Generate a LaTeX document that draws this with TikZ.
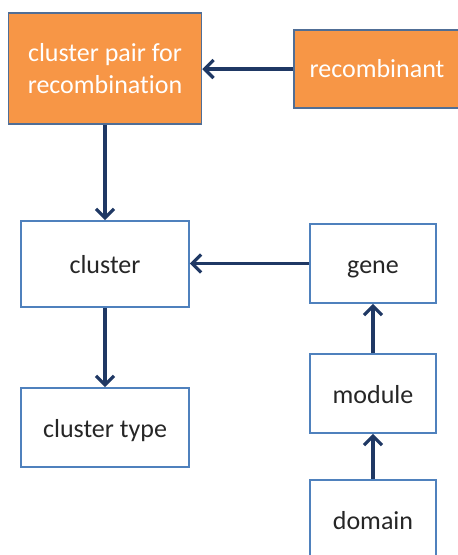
\documentclass[tikz,border=0pt]{standalone}
\usepackage{fontspec}
\setmainfont{Carlito}[Ligatures=NoCommon]
\usetikzlibrary{arrows.meta}
\definecolor{pairfill}{RGB}{247, 150, 70}
\definecolor{pairedge}{RGB}{80, 110, 150}
\definecolor{boxedge}{RGB}{79, 129, 189}
\definecolor{linkcol}{RGB}{31, 56, 100}
\definecolor{txtcol}{RGB}{38, 38, 38}

\begin{document}
\begin{tikzpicture}[
    x=1pt, y=-1pt,
    pairbox/.style={rectangle, draw=pairedge, line width=1.5pt, fill=pairfill,
                    text=white, align=center, inner sep=0pt,
                    font=\fontsize{26}{32}\selectfont},
    entity/.style={rectangle, draw=boxedge, line width=1.8pt, fill=white,
                   text=txtcol, align=center, inner sep=0pt,
                   text height=20pt, text depth=1pt,
                   font=\fontsize{26}{32}\selectfont},
    link/.style={-{Straight Barb[length=9pt, width=18pt, line width=3.2pt]},
                 line width=3.4pt, linkcol}
]
\useasboundingbox (0,0) rectangle (458,555);

% Recombination part (top)
\node[pairbox, minimum width=193pt, minimum height=111pt] (pair) at (105, 68.5) {cluster pair for\\recombination};
\node[pairbox, minimum width=166pt, minimum height=78pt] (recomb) at (377, 69) {recombinant};

% Cluster side (left)
\node[entity, minimum width=168pt, minimum height=86pt] (cluster) at (105, 264) {cluster};
\node[entity, minimum width=168pt, minimum height=79pt] (ctype) at (105, 427.5) {cluster type};

% Gene side (right)
\node[entity, minimum width=126pt, minimum height=79pt] (gene) at (373, 263.5) {gene};
\node[entity, minimum width=126pt, minimum height=79pt] (module) at (373, 393.5) {module};
\node[entity, minimum width=126pt, minimum height=79pt] (domain) at (373, 519.5) {domain};

% Connectors
\draw[link] (recomb.west) -- (pair.east |- recomb.west);
\draw[link] (pair.south) -- (cluster.north);
\draw[link] (cluster.south) -- (ctype.north);
\draw[link] (gene.west) -- (cluster.east |- gene.west);
\draw[link] (module.north) -- (gene.south);
\draw[link] (domain.north) -- (module.south);

\end{tikzpicture}
\end{document}
